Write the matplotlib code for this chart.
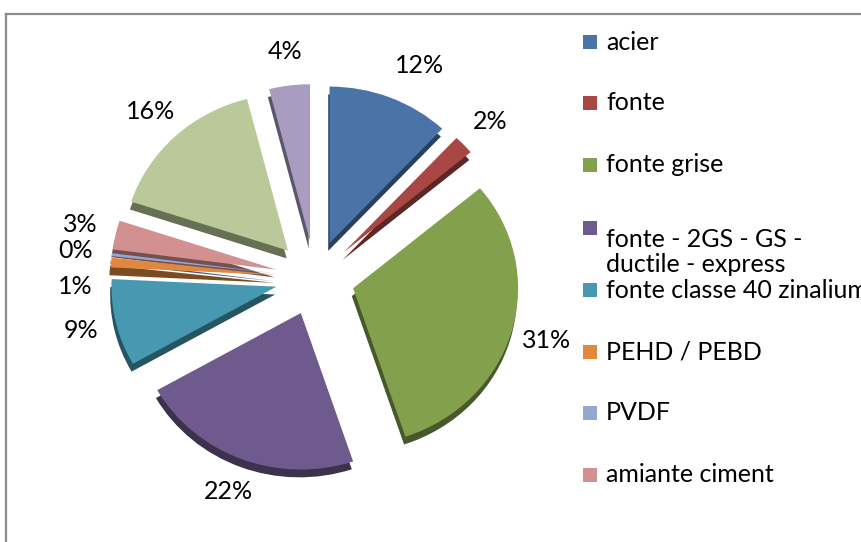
# plot.py
# Exploded "3D-looking" pie of pipe materials, legend on the right.

import matplotlib
matplotlib.use("Agg")
import matplotlib.pyplot as plt
from matplotlib.lines import Line2D
from matplotlib.patches import Rectangle
import matplotlib.colors as mcolors

categories = ["acier", "fonte", "fonte grise",
              "fonte - 2GS - GS -\nductile - express",
              "fonte classe 40 zinalium", "PEHD / PEBD", "PVDF",
              "amiante ciment", "PVC", "inconnu"]
values = [12.0, 2.0, 31.0, 22.0, 9.0, 1.0, 0.3, 3.0, 16.0, 4.0]
colors = ["#4a74a8", "#a94745", "#83a04c", "#6f5a8d", "#4699b1",
          "#e0883e", "#94a8cf", "#d29190", "#bbc99a", "#a89dc0"]
n_legend = 8  # the legend in the original is cut after 8 entries

plt.rcParams["font.family"] = ["Lato", "DejaVu Sans"]

W, H = 862, 542
fig = plt.figure(figsize=(W / 100, H / 100), dpi=100)

# axes placed so that the pie centre sits at (315, 278) px
ax_w, ax_h = 627, 532
ax = fig.add_axes([(315 - ax_w / 2) / W, (H - 278 - ax_h / 2) / H, ax_w / W, ax_h / H])

explode = [0.24] * len(values)

# side / depth of the slices: darker copy shifted down
dark = [tuple(c * 0.55 for c in mcolors.to_rgb(col)) for col in colors]
ax.pie(values, explode=explode, colors=dark, startangle=90, counterclock=False,
       center=(-0.008, -0.05), radius=1.0, wedgeprops=dict(linewidth=0))

wedges, texts, autotexts = ax.pie(
    values, explode=explode, colors=colors, startangle=90, counterclock=False,
    radius=1.0, wedgeprops=dict(linewidth=0),
    autopct=lambda p: f"{p:.0f}%", pctdistance=1.22,
    textprops=dict(fontsize=18, color="black"))

# small slices on the left: spread the labels a little
autotexts[0].set_x(autotexts[0].get_position()[0] + 0.1)
autotexts[5].set_y(autotexts[5].get_position()[1] - 0.17)
autotexts[7].set_y(autotexts[7].get_position()[1] + 0.02)

ax.set_aspect("auto")
ax.set_xlim(-1.9, 1.9)
ax.set_ylim(-1.7, 1.7)
ax.axis("off")

# legend drawn by hand (fixed row pitch, as in the original)
row_y = [42, 103, 165, 228, 290, 352, 413, 475]
for name, col, y in zip(categories[:n_legend], colors[:n_legend], row_y):
    fig.add_artist(Rectangle((583 / W, (H - y - 7) / H), 14 / W, 14 / H,
                             transform=fig.transFigure, color=col, lw=0))
    fig.text(606 / W, (H - y) / H, name, fontsize=18, va="top" if "\n" in name else "center",
             ha="left", linespacing=1.1)

# chart frame (grey border, cut off on the right and bottom)
fig.add_artist(Line2D([6 / W, 1.0], [(H - 14) / H] * 2, transform=fig.transFigure,
                      color="#8c8c8c", lw=1.6))
fig.add_artist(Line2D([6 / W] * 2, [0, (H - 14) / H], transform=fig.transFigure,
                      color="#8c8c8c", lw=1.6))

fig.savefig("out.png", dpi=100)
